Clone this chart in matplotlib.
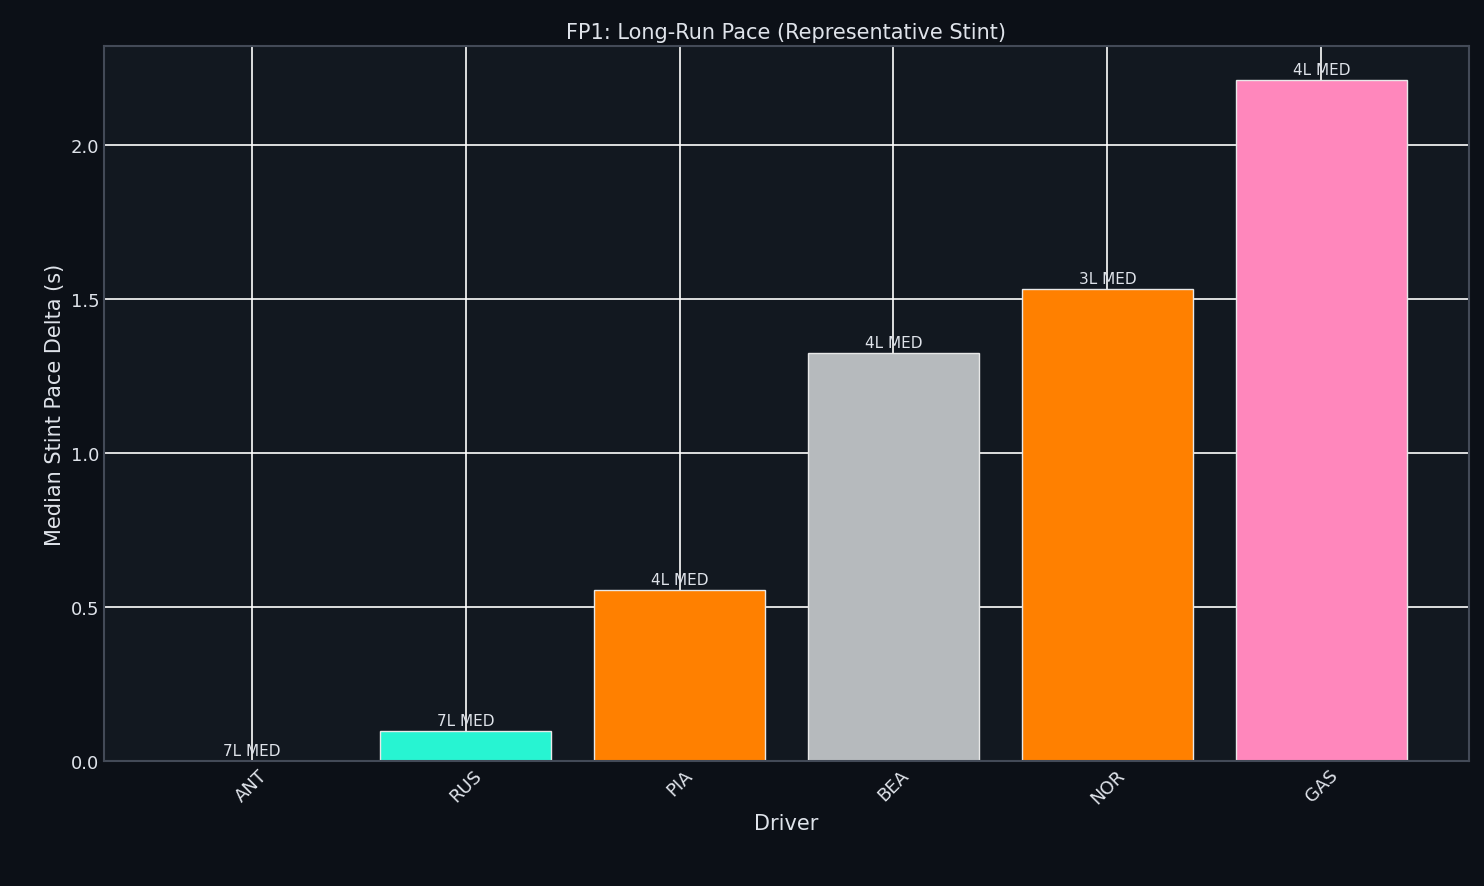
import matplotlib
matplotlib.use("Agg")
import matplotlib.pyplot as plt

drivers = ["ANT", "RUS", "PIA", "BEA", "NOR", "GAS"]
deltas = [0.0, 0.098, 0.556, 1.324, 1.532, 2.211]
labels = ["7L MED", "7L MED", "4L MED", "4L MED", "3L MED", "4L MED"]
colors = ["#27F4D2", "#27F4D2", "#FF8000", "#B6BABD", "#FF8000", "#FF87BC"]

txt = "#dfe3ea"
fig = plt.figure(figsize=(14.84, 8.87), dpi=100, facecolor="#0c1017")
ax = fig.add_axes([104/1484, 1-762/887, (1469-104)/1484, (762-47)/887])
ax.set_facecolor("#121820")
ax.set_axisbelow(True)
ax.grid(True, color="white", linewidth=1.2)
x = range(len(drivers))
bars = ax.bar(x, deltas, width=0.8, color=colors, edgecolor="#e8e8e8", linewidth=1)
for xi, v, l in zip(x, deltas, labels):
    ax.text(xi, v + 0.01, l, ha="center", va="bottom", color=txt, fontsize=11)
ax.set_xticks(list(x))
ax.set_xticklabels(drivers, rotation=45, fontsize=13, color=txt)
ax.tick_params(axis="y", labelsize=13, colors=txt, length=0)
ax.tick_params(axis="x", length=0, colors=txt)
ax.set_ylim(0, max(deltas) * 1.05)
ax.set_xlabel("Driver", fontsize=15, color=txt)
ax.set_ylabel("Median Stint Pace Delta (s)", fontsize=15, color=txt)
ax.set_title("FP1: Long-Run Pace (Representative Stint)", fontsize=15, color=txt)
for s in ax.spines.values():
    s.set_color("#434a57")
    s.set_linewidth(1.5)
fig.savefig("out.png", dpi=100, facecolor=fig.get_facecolor())
